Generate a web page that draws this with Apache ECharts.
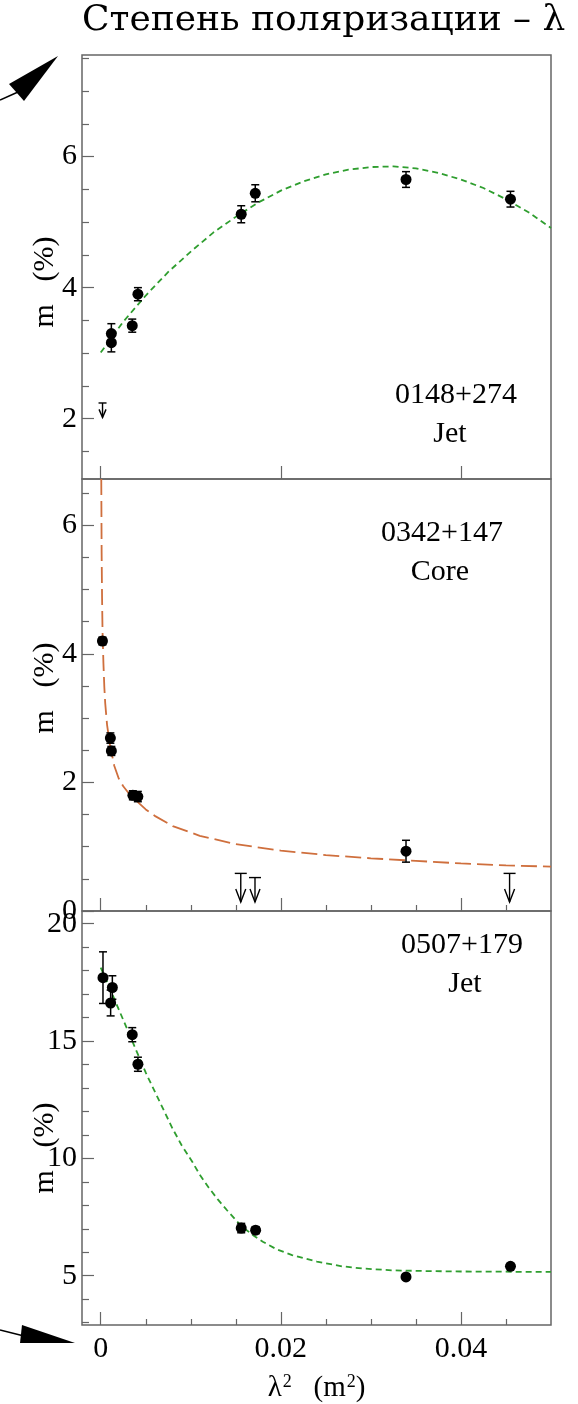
<!DOCTYPE html>
<html>
<head>
<meta charset="utf-8">
<title>Степень поляризации – λ</title>
<script src="https://cdn.jsdelivr.net/npm/echarts@6/dist/echarts.min.js"></script>
<style>
html,body{margin:0;padding:0;background:#fff;}
#chart{width:578px;height:1404px;}
</style>
</head>
<body>
<div id="chart"></div>
<script>
// ось x: lambda^2 (m^2)
var x_min = -0.00208, x_max = 0.05;
var x_major = [0, 0.02, 0.04];
var x_minor = [0.005, 0.01, 0.015, 0.025, 0.03, 0.035, 0.045];
var x_labels = ['0', '0.02', '0.04'];

// 0148+274 Jet
var jet1_x   = [0.00118, 0.00118, 0.0035, 0.00413, 0.0156, 0.01716, 0.0339, 0.0455];
var jet1_m   = [3.30, 3.16, 3.42, 3.90, 5.12, 5.44, 5.65, 5.35];
var jet1_err = [0.15, 0.14, 0.10, 0.10, 0.13, 0.13, 0.12, 0.12];
var jet1_lim_x = [0.0002], jet1_lim_top = [2.24], jet1_lim_tip = [2.02];
var jet1_fit_x = [0, 0.0025, 0.005, 0.0075, 0.01, 0.0125, 0.015, 0.0175, 0.02, 0.0225, 0.025, 0.0275, 0.03, 0.0325, 0.035, 0.0375, 0.04, 0.0425, 0.045, 0.0475, 0.05];
var jet1_fit_m = [3.01, 3.48, 3.88, 4.24, 4.55, 4.84, 5.08, 5.30, 5.48, 5.62, 5.73, 5.80, 5.84, 5.85, 5.82, 5.75, 5.65, 5.52, 5.35, 5.15, 4.91];
var jet1_y_major = [2, 4, 6];
var jet1_y_minor = [1.5, 2.5, 3, 3.5, 4.5, 5, 5.5, 6.5, 7, 7.5];

// 0342+147 Core
var core_x   = [0.00019, 0.00107, 0.00118, 0.00357, 0.00412, 0.0339];
var core_m   = [4.20, 2.69, 2.49, 1.80, 1.78, 0.93];
var core_err = [0.06, 0.08, 0.07, 0.07, 0.08, 0.17];
var core_lim_x = [0.01555, 0.01713, 0.0454], core_lim_top = [0.585, 0.52, 0.585], core_lim_tip = [0.14, 0.14, 0.14];
var core_fit_x = [0.00006, 0.0001, 0.00015, 0.0002, 0.0003, 0.0004, 0.0005, 0.0007, 0.001, 0.0015, 0.002, 0.0025, 0.003, 0.004, 0.005, 0.006, 0.008, 0.011, 0.015, 0.02, 0.025, 0.03, 0.035, 0.04, 0.045, 0.05];
var core_fit_m = [6.72, 5.57, 4.85, 4.35, 3.85, 3.48, 3.23, 2.90, 2.60, 2.26, 2.06, 1.94, 1.85, 1.71, 1.58, 1.48, 1.32, 1.17, 1.04, 0.94, 0.87, 0.82, 0.78, 0.74, 0.71, 0.69];
var core_y_major = [0, 2, 4, 6];
var core_y_minor = [0.5, 1, 1.5, 2.5, 3, 3.5, 4.5, 5, 5.5, 6.5];

// 0507+179 Jet
var jet2_x   = [0.00025, 0.00129, 0.0011, 0.0035, 0.00413, 0.0156, 0.0172, 0.0339, 0.0455];
var jet2_m   = [17.70, 17.28, 16.62, 15.27, 14.01, 7.03, 6.94, 4.95, 5.40];
var jet2_err = [1.10, 0.50, 0.55, 0.30, 0.30, 0.20, 0.15, 0, 0];
var jet2_fit_x = [0, 0.001, 0.002, 0.003, 0.004, 0.005, 0.0062, 0.007, 0.008, 0.009, 0.0102, 0.011, 0.012, 0.013, 0.014, 0.0156, 0.017, 0.018, 0.0195, 0.02125, 0.0225, 0.024, 0.0268, 0.029, 0.0323, 0.036, 0.04, 0.045, 0.05];
var jet2_fit_m = [18.13, 17.25, 16.35, 15.45, 14.55, 13.65, 12.69, 12.05, 11.25, 10.55, 9.83, 9.30, 8.75, 8.25, 7.80, 7.12, 6.70, 6.45, 6.13, 5.88, 5.75, 5.60, 5.40, 5.31, 5.23, 5.20, 5.18, 5.17, 5.16];
var jet2_y_major = [5, 10, 15, 20];
var jet2_y_minor = [3, 4, 6, 7, 8, 9, 11, 12, 13, 14, 16, 17, 18, 19];

var CHART = {
	FRAME: '#666',
	FONT: 'Liberation Serif',
	GREEN: '#2f9e2f',
	ORANGE: '#cf6f3d',
	left: 82,
	width: 469,
	tops: [55, 479, 911],
	heights: [424, 432, 432],
	y_min: [1.08, 0, 2.9],
	y_max: [7.55, 6.72, 20.54],

	ini: function(){
		var chart = echarts.init(document.getElementById('chart'), null, {renderer: 'canvas'});
		chart.setOption(this.getOption());
	},
	zip: function(a, b, c){
		var out = [];
		for(var i = 0; i < a.length; i++){
			out.push(c ? [a[i], b[i], c[i]] : [a[i], b[i]]);
		}
		return out;
	},
	xAxes: function(i){
		var me = this;
		var last = (i == 2);
		var main = {
			type: 'value', gridIndex: i, min: x_min, max: x_max, position: 'bottom',
			axisLine: {show: false, onZero: false},
			splitLine: {show: false},
			axisTick: {show: true, inside: true, length: 13, customValues: x_major, lineStyle: {color: me.FRAME, width: 1.2}},
			axisLabel: {show: last, customValues: x_major, margin: 9, color: '#000', fontFamily: me.FONT, fontSize: 30,
				formatter: function(v){ return x_labels[x_major.indexOf(v)] || ''; }},
			name: last ? '{l|λ}{s|2}{l|   (m}{s|2}{l|)}' : '', nameLocation: 'middle', nameGap: 48,
			nameTextStyle: {color: '#000', fontFamily: me.FONT, fontSize: 29,
				rich: {
					l: {fontFamily: me.FONT, fontSize: 29, color: '#000', lineHeight: 30, verticalAlign: 'bottom'},
					s: {fontFamily: me.FONT, fontSize: 18, color: '#000', lineHeight: 30, verticalAlign: 'top', padding: [0, 0, 0, 1]}
				}}
		};
		var minor = {
			type: 'value', gridIndex: i, min: x_min, max: x_max, position: 'bottom',
			axisLine: {show: false, onZero: false}, splitLine: {show: false}, axisLabel: {show: false},
			axisTick: {show: i > 0, inside: true, length: 6, customValues: x_minor, lineStyle: {color: me.FRAME, width: 1.2}}
		};
		return [main, minor];
	},
	yAxes: function(i, major, minor){
		var me = this;
		var main = {
			type: 'value', gridIndex: i, min: me.y_min[i], max: me.y_max[i], position: 'left', z: 2 + i * 3,
			axisLine: {show: false, onZero: false}, splitLine: {show: false},
			axisTick: {show: true, inside: true, length: 12, customValues: major, lineStyle: {color: me.FRAME, width: 1.2}},
			axisLabel: {customValues: major, margin: 5, color: '#000', fontFamily: me.FONT, fontSize: 30}
		};
		var small = {
			type: 'value', gridIndex: i, min: me.y_min[i], max: me.y_max[i], position: 'left',
			axisLine: {show: false, onZero: false}, splitLine: {show: false}, axisLabel: {show: false},
			axisTick: {show: true, inside: true, length: 7, customValues: minor, lineStyle: {color: me.FRAME, width: 1.2}}
		};
		return [main, small];
	},
	errorBars: function(i, xs, ms, es){
		return {
			type: 'custom', xAxisIndex: i * 2, yAxisIndex: i * 2, z: 3,
			data: this.zip(xs, ms, es),
			renderItem: function(params, api){
				var x = api.value(0), y = api.value(1), e = api.value(2);
				if(!e){
					return {type: 'group', children: []};
				}
				var hi = api.coord([x, y + e]), lo = api.coord([x, y - e]);
				var st = {stroke: '#000', lineWidth: 1.5};
				return {type: 'group', children: [
					{type: 'line', shape: {x1: hi[0], y1: hi[1], x2: lo[0], y2: lo[1]}, style: st},
					{type: 'line', shape: {x1: hi[0] - 4, y1: hi[1], x2: hi[0] + 4, y2: hi[1]}, style: st},
					{type: 'line', shape: {x1: lo[0] - 4, y1: lo[1], x2: lo[0] + 4, y2: lo[1]}, style: st}
				]};
			}
		};
	},
	limits: function(i, xs, tops, tips, bar, hw, hh){
		return {
			type: 'custom', xAxisIndex: i * 2, yAxisIndex: i * 2, z: 3,
			data: this.zip(xs, tops, tips),
			renderItem: function(params, api){
				var top = api.coord([api.value(0), api.value(1)]);
				var tip = api.coord([api.value(0), api.value(2)]);
				var st = {stroke: '#000', lineWidth: 1.4, fill: null};
				return {type: 'group', children: [
					{type: 'line', shape: {x1: top[0] - bar, y1: top[1], x2: top[0] + bar, y2: top[1]}, style: st},
					{type: 'line', shape: {x1: top[0], y1: top[1], x2: tip[0], y2: tip[1]}, style: st},
					{type: 'polyline', shape: {points: [[tip[0] - hw, tip[1] - hh], [tip[0], tip[1]], [tip[0] + hw, tip[1] - hh]]}, style: st}
				]};
			}
		};
	},
	points: function(i, xs, ms){
		return {type: 'scatter', xAxisIndex: i * 2, yAxisIndex: i * 2, z: 4, symbol: 'circle', symbolSize: 11,
			itemStyle: {color: '#000', opacity: 1}, data: this.zip(xs, ms)};
	},
	fit: function(i, xs, ms, color, dash){
		return {type: 'line', xAxisIndex: i * 2, yAxisIndex: i * 2, z: 2, showSymbol: false, symbol: 'none',
			smooth: false, clip: true,
			lineStyle: {color: color, width: 1.8, type: dash}, data: this.zip(xs, ms)};
	},
	text: function(str, x, y, size, rot){
		return {type: 'text', x: x, y: y, rotation: rot || 0, z: 20,
			style: {text: str, fill: '#000', font: size + 'px "' + this.FONT + '"', textAlign: 'center', textVerticalAlign: 'middle'}};
	},
	getOption: function(){
		var me = this;
		var grids = [], xAxis = [], yAxis = [];
		var y_major = [jet1_y_major, core_y_major, jet2_y_major];
		var y_minor = [jet1_y_minor, core_y_minor, jet2_y_minor];
		for(var i = 0; i < 3; i++){
			grids.push({left: me.left, width: me.width, top: me.tops[i], height: me.heights[i], show: true,
				borderColor: me.FRAME, borderWidth: 1.5, backgroundColor: 'transparent', containLabel: false});
			xAxis = xAxis.concat(me.xAxes(i));
			yAxis = yAxis.concat(me.yAxes(i, y_major[i], y_minor[i]));
		}

		var series = [
			me.fit(0, jet1_fit_x, jet1_fit_m, me.GREEN, [6, 4]),
			me.errorBars(0, jet1_x, jet1_m, jet1_err),
			me.points(0, jet1_x, jet1_m),
			me.limits(0, jet1_lim_x, jet1_lim_top, jet1_lim_tip, 4, 3.5, 8),

			me.fit(1, core_fit_x, core_fit_m, me.ORANGE, [16, 6]),
			me.errorBars(1, core_x, core_m, core_err),
			me.points(1, core_x, core_m),
			me.limits(1, core_lim_x, core_lim_top, core_lim_tip, 6, 5, 13),

			me.fit(2, jet2_fit_x, jet2_fit_m, me.GREEN, [6, 4]),
			me.errorBars(2, jet2_x, jet2_m, jet2_err),
			me.points(2, jet2_x, jet2_m)
		];

		var graphic = [
			{type: 'text', left: 82, top: 3, z: 20,
				style: {text: 'Степень поляризации – λ', fill: '#000', font: '36px "DejaVu Serif"'}},
			me.text('0148+274', 456, 395, 30), me.text('Jet', 450, 434, 30),
			me.text('0342+147', 442, 533, 30), me.text('Core', 440, 572, 30),
			me.text('0507+179', 462, 945, 30), me.text('Jet', 465, 984, 30),
			me.text('m   (%)', 45, 282, 30, Math.PI / 2),
			me.text('m   (%)', 45, 688, 30, Math.PI / 2),
			me.text('m   (%)', 45, 1148, 30, Math.PI / 2),
			// белая полоса прячет нижнюю часть метки "0" средней панели
			{type: 'rect', z: 4, shape: {x: 0, y: 911.5, width: 81, height: 40}, style: {fill: '#fff'}},
			// стрелки слева
			{type: 'line', z: 20, shape: {x1: 0, y1: 100, x2: 18, y2: 92}, style: {stroke: '#000', lineWidth: 1.5}},
			{type: 'polygon', z: 20, shape: {points: [[58, 56], [9, 84], [24, 101]]}, style: {fill: '#000'}},
			{type: 'line', z: 20, shape: {x1: 0, y1: 1330, x2: 24, y2: 1336}, style: {stroke: '#000', lineWidth: 1.5}},
			{type: 'polygon', z: 20, shape: {points: [[22, 1325], [20, 1343], [75, 1343]]}, style: {fill: '#000'}}
		];

		return {
			animation: false,
			backgroundColor: '#fff',
			grid: grids,
			xAxis: xAxis,
			yAxis: yAxis,
			series: series,
			graphic: graphic
		};
	}
};

CHART.ini();
</script>
</body>
</html>
